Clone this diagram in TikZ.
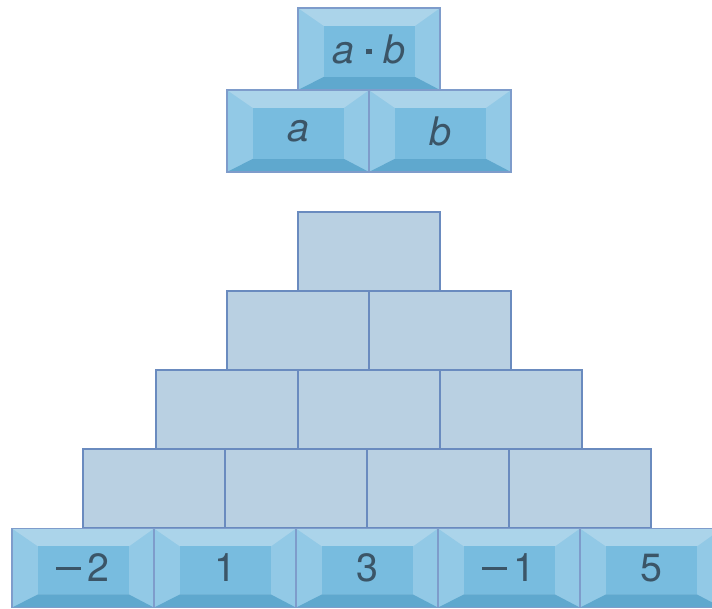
\documentclass[tikz,border=0pt]{standalone}
\usepackage{fontspec}
\setmainfont{TeX Gyre Heros}
\usetikzlibrary{calc}
\definecolor{palefill}{HTML}{B9D0E2}
\definecolor{paleline}{HTML}{6A8BBF}
\definecolor{keyline}{HTML}{7E9CCB}
\definecolor{keyside}{HTML}{92C9E6}
\definecolor{keytop}{HTML}{ABD4EA}
\definecolor{keyface}{HTML}{78BCDF}
\definecolor{keybottom}{HTML}{5FA8CE}
\definecolor{keytext}{HTML}{3B5567}

\newcommand{\minussign}{\raisebox{0.3em}{\rule{0.62em}{0.075em}}\kern0.18em}

\tikzset{
  palebrick/.style={draw=paleline, fill=palefill, line width=1.5pt,
    minimum width=3.55cm, minimum height=1.98cm, inner sep=0pt},
  keybrick/.style={draw=keyline, fill=keyside, line width=1.1pt,
    minimum width=3.55cm, minimum height=#1, inner sep=0pt,
    text=keytext, font=\fontsize{28}{32}\selectfont,
    path picture={
      \fill[keytop] (path picture bounding box.north west)
        -- (path picture bounding box.north east)
        -- ([xshift=-0.63cm,yshift=-0.45cm]path picture bounding box.north east)
        -- ([xshift=0.65cm,yshift=-0.45cm]path picture bounding box.north west) -- cycle;
      \fill[keybottom] (path picture bounding box.south west)
        -- (path picture bounding box.south east)
        -- ([xshift=-0.63cm,yshift=0.33cm]path picture bounding box.south east)
        -- ([xshift=0.65cm,yshift=0.33cm]path picture bounding box.south west) -- cycle;
      \fill[keyface] ([xshift=0.65cm,yshift=0.33cm]path picture bounding box.south west)
        rectangle ([xshift=-0.63cm,yshift=-0.45cm]path picture bounding box.north east);
    }},
  keybrick/.default=1.98cm
}

\begin{document}
\begin{tikzpicture}[x=0.025cm, y=0.025cm]
  \useasboundingbox (0,0) rectangle (712,609);

  % --- rule: product of the two below ---
  \node[keybrick=2.05cm] (prod) at (369,560) {\itshape a\kern0.3em\raisebox{0.22em}{\rule{0.13em}{0.13em}}\kern0.3em b};
  \node[keybrick=2.05cm] (fa) at (298,478) {\itshape a};
  \node[keybrick=2.05cm] (fb) at (440,478) {\itshape b};

  % --- pyramid: empty bricks ---
  \node[palebrick] (r1a) at (369,357.5) {};

  \node[palebrick] (r2a) at (298,278.5) {};
  \node[palebrick] (r2b) at (440,278.5) {};

  \node[palebrick] (r3a) at (227,199.5) {};
  \node[palebrick] (r3b) at (369,199.5) {};
  \node[palebrick] (r3c) at (511,199.5) {};

  \node[palebrick] (r4a) at (154,120.5) {};
  \node[palebrick] (r4b) at (296,120.5) {};
  \node[palebrick] (r4c) at (438,120.5) {};
  \node[palebrick] (r4d) at (580,120.5) {};

  % --- base row: given numbers ---
  \node[keybrick] (b1) at (83,41) {\minussign 2};
  \node[keybrick] (b2) at (225,41) {1};
  \node[keybrick] (b3) at (367,41) {3};
  \node[keybrick] (b4) at (509,41) {\minussign 1};
  \node[keybrick] (b5) at (651,41) {5};
\end{tikzpicture}
\end{document}
